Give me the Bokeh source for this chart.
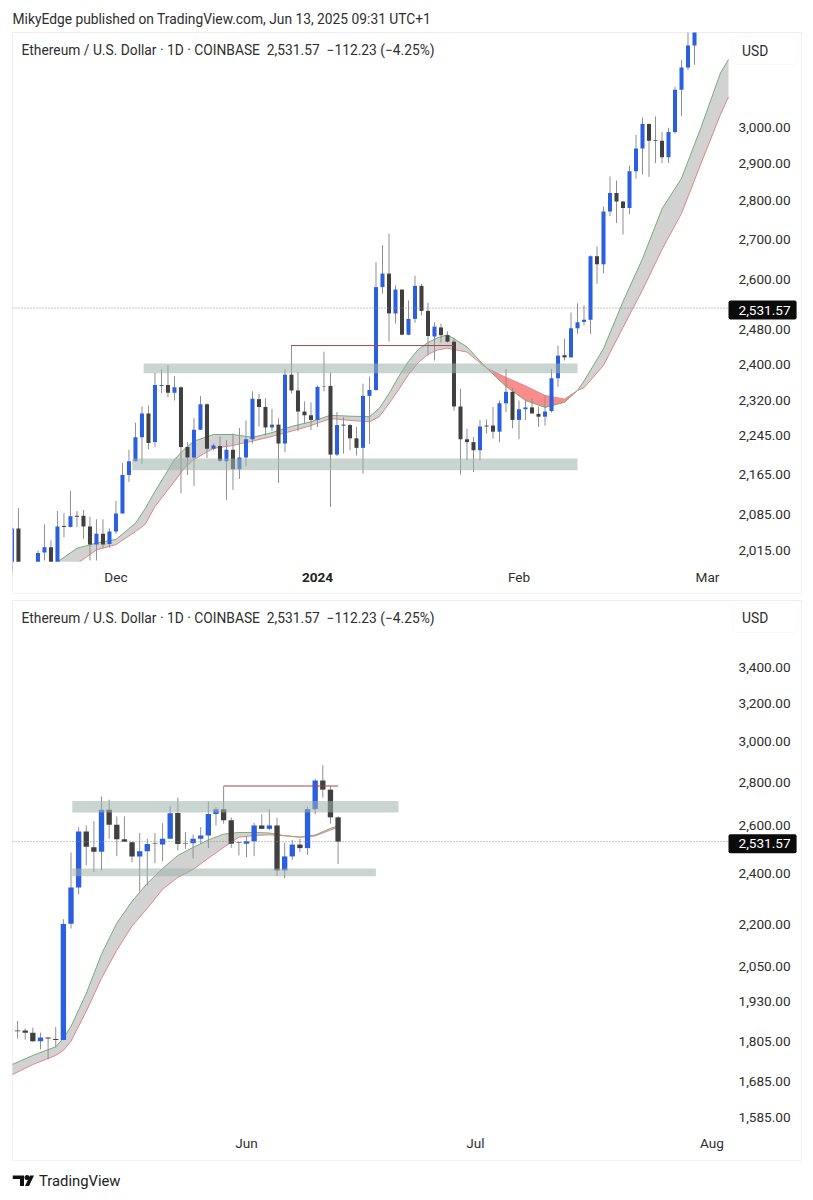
import numpy as np
import pandas as pd
from bokeh.embed import file_html
from bokeh.layouts import column
from bokeh.models import (BoxAnnotation, FixedTicker, Label, LinearAxis, LogAxis, NumeralTickFormatter,
                          Range1d)
from bokeh.plotting import figure
from bokeh.resources import INLINE

# ---------- texts ----------
published = "MikyEdge published on TradingView.com, Jun 13, 2025 09:31 UTC+1"
legend = "Ethereum / U.S. Dollar · 1D · COINBASE\u00a0\u00a02,531.57\u00a0\u00a0\u2212112.23 (\u22124.25%)"
last_price = 2531.57

# ---------- top panel: daily candles from 15 Nov 2023 ----------
top_start = "2023-11-15"
top_open = [1978,2058,1969,1955,1988,2012,2022,1988,2063,2061,2083,2083,2062,2027,2048,2028,
 2052,2087,2164,2192,2242,2293,2232,2353,2355,2338,2350,2222,2200,2258,2313,2218,2224,2192,2216,2176,
 2200,2238,2324,2307,2263,2269,2229,2378,2343,2297,2289,2279,2351,2353,2206,2269,2268,2240,2220,2331,
 2344,2582,2615,2519,2576,2469,2506,2585,2525,2465,2486,2468,2453,2308,2238,2232,2215,2267,2267,2254,
 2315,2340,2279,2302,2306,2292,2286,2298,2370,2422,2417,2484,2499,2504,2658,2638,2772,2821,2798,2781,
 2879,2941,3010,2964,2963,2917,2987,3108,3174,3240]
top_high = [2060,2098,1985,1985,2016,2066,2035,2092,2088,2132,2092,2094,2081,2076,2076,2058,
 2112,2189,2216,2273,2308,2310,2382,2390,2400,2375,2352,2232,2283,2331,2315,2229,2244,2236,2250,2262,
 2278,2341,2335,2326,2303,2283,2391,2445,2384,2319,2317,2354,2430,2383,2296,2285,2271,2264,2358,2374,
 2643,2686,2715,2586,2577,2550,2610,2590,2544,2498,2495,2477,2463,2347,2260,2243,2279,2280,2307,2321,
 2391,2349,2321,2323,2326,2308,2332,2391,2444,2460,2521,2543,2538,2660,2683,2785,2865,2854,2800,2894,
 2979,3028,3011,3031,2987,2999,3117,3197,3290,3300]
top_low = [1969,1960,1945,1945,1978,1997,1975,1975,2041,2060,2061,2038,1997,1997,2020,2021,
 2048,2087,2150,2192,2187,2217,2222,2337,2328,2321,2127,2164,2142,2257,2199,2215,2191,2114,2134,2156,
 2182,2229,2265,2246,2255,2148,2211,2336,2255,2271,2257,2264,2341,2100,2203,2208,2215,2204,2167,2228,
 2342,2566,2453,2495,2468,2468,2497,2514,2421,2410,2451,2451,2299,2165,2194,2170,2194,2250,2239,2232,
 2296,2261,2238,2279,2292,2264,2267,2295,2351,2410,2417,2471,2491,2471,2590,2616,2760,2742,2713,2765,
 2859,2870,2864,2901,2901,2901,2982,3032,3166,3182]
top_close = [2058,1969,1955,1965,2011,2022,1988,2062,2061,2082,2081,2062,2027,2048,2027,2052,
 2087,2164,2192,2242,2293,2230,2355,2355,2338,2350,2222,2200,2258,2313,2218,2225,2193,2216,2176,2200,
 2238,2325,2307,2263,2269,2229,2378,2343,2297,2289,2279,2351,2352,2206,2268,2267,2240,2220,2331,2344,
 2582,2615,2519,2576,2469,2506,2585,2525,2466,2488,2468,2453,2308,2238,2232,2215,2265,2265,2254,2315,
 2340,2279,2302,2306,2293,2286,2297,2370,2421,2417,2484,2498,2504,2658,2638,2772,2821,2798,2781,2879,
 2941,3010,2963,2962,2917,2987,3108,3174,3240,3285]

top_ema_dates = ["2023-11-21","2023-11-25","2023-11-28","2023-12-01","2023-12-04","2023-12-05 12:00","2023-12-07",
 "2023-12-08 12:00","2023-12-10","2023-12-11 12:00",
 "2023-12-13","2023-12-16","2023-12-19","2023-12-22","2023-12-25","2023-12-28","2023-12-31","2024-01-03",
 "2024-01-06","2024-01-09","2024-01-10 12:00","2024-01-12","2024-01-13 12:00","2024-01-15","2024-01-16 12:00",
 "2024-01-18","2024-01-19 12:00","2024-01-21","2024-01-24","2024-01-27",
 "2024-01-30","2024-02-02","2024-02-05","2024-02-08","2024-02-10","2024-02-11","2024-02-14","2024-02-17",
 "2024-02-20","2024-02-23","2024-02-26","2024-02-29","2024-03-03","2024-03-04 05:30"]
top_ema_fast = [1986,2020,2030,2037,2068,2097,2131,2163,2196,2217,2234,2248,2248,2242,2252,2265,2275,2289,2287,
 2286,2304,2336,2374,2408,2435,2451,2462,2469,2441,2393,2352,2321,2306,2317,2343,2364,2437,2547,2652,2779,2860,
 3000,3158,3198]
top_ema_slow = [1962,1991,2017,2027,2052,2066,2101,2126,2151,2178,2196,2219,2225,2234,2244,2255,2267,2282,2278,
 2275,2286,2314,2345,2378,2405,2424,2434,2438,2429,2393,2372,2353,2332,2324,2343,2349,2399,2486,2575,2675,2767,
 2900,3037,3087]
top_zone_left = ["2023-12-05 06:00","2023-12-03 12:00"]
top_zone_right = ["2024-02-10","2024-02-10"]
top_zone_low = [2381,2174]
top_zone_high = [2403,2198]
top_level_dates = ["2023-12-28","2024-01-22"]
top_level_price = [2444,2444]
top_ticks = [2015,2085,2165,2245,2320,2400,2480,2600,2700,2800,2900,3000]
top_months = {"2023-12-01":"Dec","2024-02-01":"Feb","2024-03-01":"Mar"}
top_year = ("2024-01-01","2024")
# visible window: left, right end of the time scale, right end of the panel, panel bottom, scale bottom, panel top
top_view = ("2023-11-15 02:00","2024-03-04 05:30","2024-03-15 11:00",1936,1994.5,3280)

# ---------- bottom panel: daily candles from 2 May 2025 ----------
bot_start = "2025-05-02"
bot_open = [1838,1838,1831,1805,1816,1812,1809,2203,2342,2576,2508,2489,2672,2605,2542,2529,2469,2491,2524,
 2519,2544,2658,2526,2525,2544,2558,2653,2674,2625,2530,2523,2533,2602,2587,2602,2411,2469,2519,2504,2675,
 2808,2765,2638]
bot_high = [1868,1845,1847,1831,1817,1849,2220,2485,2595,2602,2621,2733,2718,2642,2643,2531,2569,2544,2569,
 2612,2690,2728,2573,2562,2595,2710,2684,2781,2638,2532,2555,2614,2652,2675,2636,2527,2539,2544,2686,2817,
 2882,2781,2643]
bot_low = [1813,1810,1803,1780,1750,1786,1808,2185,2315,2432,2404,2411,2544,2470,2531,2445,2327,2351,2441,
 2449,2544,2494,2501,2461,2522,2504,2602,2610,2505,2473,2466,2470,2587,2581,2388,2380,2455,2487,2475,2652,
 2728,2610,2438]
bot_close = [1836,1831,1805,1816,1813,1809,2202,2342,2576,2510,2489,2672,2605,2542,2531,2469,2491,2522,2522,
 2544,2656,2522,2524,2544,2558,2653,2674,2625,2523,2528,2533,2602,2587,2602,2411,2469,2519,2504,2675,2808,
 2765,2638,last_price]

bot_ema_dates = ["2025-05-01","2025-05-04","2025-05-07","2025-05-08","2025-05-09","2025-05-11","2025-05-13",
 "2025-05-15","2025-05-17","2025-05-19","2025-05-21","2025-05-23","2025-05-25","2025-05-27","2025-05-29",
 "2025-05-31","2025-06-02","2025-06-04","2025-06-06","2025-06-08","2025-06-10","2025-06-12","2025-06-13"]
bot_ema_fast = [1732,1762,1788,1814,1851,1957,2092,2205,2288,2359,2419,2473,2507,2539,2564,2571,2571,2569,2557,
 2551,2560,2589,2600]
bot_ema_slow = [1702,1735,1762,1777,1805,1899,2008,2106,2194,2261,2335,2383,2415,2461,2507,2551,2558,2561,2557,
 2551,2556,2582,2593]
bot_zone_left = ["2025-05-09 04:00","2025-05-09 04:00"]
bot_zone_right = ["2025-06-20 22:00","2025-06-17 23:00"]
bot_zone_low = [2660,2387]
bot_zone_high = [2712,2419]
bot_level_dates = ["2025-05-29","2025-06-13"]
bot_level_price = [2782,2782]
bot_ticks = [1585,1685,1805,1930,2050,2200,2400,2600,2800,3000,3200,3400]
bot_months = {"2025-06-01":"Jun","2025-07-01":"Jul","2025-08-01":"Aug"}
bot_year = None
bot_view = ("2025-05-01 08:00","2025-08-03 04:00","2025-08-12 17:36",1474.5,1557,3810)

# ---------- styles ----------
FONT = "Roboto"
BLUE = "#2a5fe0"
DARK = "#404040"
WICK = "#8f8f8f"
TEXT = "#2e2e2e"
BORDER = "#eeeeee"
DAY = 86400000.0


def ms(values):
    return (pd.to_datetime(values, format="ISO8601") - pd.Timestamp("1970-01-01")) / pd.Timedelta(milliseconds=1)


def bare_axis(axis, standoff):
    axis.axis_line_color = None
    axis.major_tick_line_color = None
    axis.minor_tick_line_color = None
    axis.major_tick_out = 0
    axis.major_tick_in = 0
    axis.minor_tick_out = 0
    axis.major_label_text_font = FONT
    axis.major_label_text_font_size = "13.6px"
    axis.major_label_text_color = TEXT
    axis.major_label_standoff = standoff


def panel(start, o, h, l, c, ema_dates, fast, slow, zl, zr, zb, zt, lvl_d, lvl_p, ticks, months,
          year, view, body_days, top_border, canvas_h, legend_y, button, usd_y, tag_offset):
    x = np.asarray(ms(pd.date_range(start, periods=len(o), freq="D")), dtype=float)
    o, h, l, c = map(np.asarray, (o, h, l, c))
    up = c > o
    x0, x_axis, x1 = float(ms(view[0])), float(ms(view[1])), float(ms(view[2]))
    p_bottom, scale_bottom, p_top = view[3], view[4], view[5]
    p = figure(width=813, height=canvas_h, output_backend="svg", toolbar_location=None,
               y_axis_type="log", y_axis_location=None, x_axis_location=None,
               x_range=Range1d(x0, x1), y_range=Range1d(p_bottom, p_top),
               min_border_left=12, min_border_right=12, min_border_top=top_border, min_border_bottom=1)
    p.grid.visible = False
    p.outline_line_color = BORDER
    p.background_fill_color = "white"
    p.border_fill_color = "white"

    ex = np.asarray(ms(ema_dates), dtype=float)
    fast, slow = np.asarray(fast, float), np.asarray(slow, float)
    lo = np.minimum(fast, slow)
    p.varea(ex, fast, lo, fill_color="#d2d2d2", fill_alpha=1)
    p.varea(ex, slow, lo, fill_color="#fb8c8c", fill_alpha=1)
    p.line(ex, fast, line_color="#74ad79", line_width=1)
    p.line(ex, slow, line_color="#e08686", line_width=1)

    p.segment(x, l, x, h, line_color=WICK, line_width=1)
    bw = body_days * DAY
    top = np.maximum(o, c)
    bot = np.minimum(o, c)
    p.vbar(x[up], bw, bot[up], top[up], fill_color=BLUE, line_color=None)
    p.vbar(x[~up], bw, bot[~up], top[~up], fill_color=DARK, line_color=None)

    p.quad(left=ms(zl), right=ms(zr), bottom=zb, top=zt, fill_color="#9fb0ac", fill_alpha=0.55, line_color=None)
    p.line(ms(lvl_d), lvl_p, line_color="#a04848", line_width=1)
    p.line([x0, x_axis], [last_price, last_price], line_color="#8a8a8a", line_width=1, line_dash=[1, 2])

    # the strip that holds the date labels: nothing of the price chart shows there
    p.quad(left=[x0], right=[x1], bottom=[p_bottom], top=[scale_bottom], fill_color="white", line_color=None)

    # axes sit inside the panel, at the edges of the price/time scales
    ya = LogAxis(fixed_location=x_axis, ticker=FixedTicker(ticks=ticks),
                 formatter=NumeralTickFormatter(format="0,0.00"))
    bare_axis(ya, 10)
    p.add_layout(ya, "right")

    mt = {float(ms(k)): v for k, v in months.items()}
    xa = LinearAxis(fixed_location=scale_bottom, ticker=FixedTicker(ticks=list(mt)), major_label_overrides=mt)
    bare_axis(xa, 7)
    p.add_layout(xa, "below")
    if year:
        y_tick = float(ms(year[0]))
        xb = LinearAxis(fixed_location=scale_bottom, ticker=FixedTicker(ticks=[y_tick]),
                        major_label_overrides={y_tick: year[1]})
        bare_axis(xb, 11)
        xb.major_label_text_font_style = "bold"
        xb.major_label_text_color = "#222222"
        p.add_layout(xb, "below")

    # legend, currency button, last price tag
    p.add_layout(BoxAnnotation(left=732, right=797, top=button[0], bottom=button[1],
                               left_units="canvas", right_units="canvas", top_units="canvas", bottom_units="canvas",
                               fill_color="white", fill_alpha=1, line_color=BORDER, line_width=1,
                               border_radius=4))
    p.add_layout(Label(x=21, y=legend_y, x_units="canvas", y_units="canvas", text=legend,
                       text_font=FONT, text_font_size="13.8px", text_color=TEXT, text_baseline="middle"))
    p.add_layout(Label(x=741.5, y=usd_y, x_units="canvas", y_units="canvas", text="USD",
                       text_font=FONT, text_font_size="13.8px", text_color=TEXT, text_baseline="middle"))
    p.add_layout(Label(x=x_axis, y=last_price, text=f"{last_price:,.2f}", text_font=FONT,
                       text_font_size="13.6px", text_color="white", text_baseline="middle",
                       background_fill_color="#0b0b0b", padding=(10, 6, 5, 5), border_radius=2,
                       y_offset=tag_offset))
    return p


# the column lines up the frames, so these two figures start at the panels' left edge
header = figure(width=813, height=31, output_backend="svg", toolbar_location=None,
                x_range=Range1d(0, 789), y_range=Range1d(31, 0), min_border=0)
header.axis.visible = False
header.grid.visible = False
header.outline_line_color = None
header.add_layout(Label(x=0, y=18, text=published, text_font=FONT, text_font_size="13.8px",
                        text_color=TEXT, text_baseline="middle"))

top_panel = panel(top_start, top_open, top_high, top_low, top_close, top_ema_dates, top_ema_fast, top_ema_slow,
                  top_zone_left, top_zone_right, top_zone_low, top_zone_high, top_level_dates, top_level_price,
                  top_ticks, top_months, top_year, top_view, 0.62, 1, 563, 18.5, (5, 33), 19, -2)
bot_panel = panel(bot_start, bot_open, bot_high, bot_low, bot_close, bot_ema_dates, bot_ema_fast, bot_ema_slow,
                  bot_zone_left, bot_zone_right, bot_zone_low, bot_zone_high, bot_level_dates, bot_level_price,
                  bot_ticks, bot_months, bot_year, bot_view, 0.7, 6, 567, 23, (9, 38), 23.5, -2)

footer = figure(width=813, height=31, output_backend="svg", toolbar_location=None,
                x_range=Range1d(0, 789), y_range=Range1d(31, 0), min_border=0)
footer.axis.visible = False
footer.grid.visible = False
footer.outline_line_color = None
logo_x = [[0, 11.5, 11.5, 7.5, 7.5, 0], [17.5, 21.5, 16.5, 12.5]]
logo_y = [[14, 14, 24.5, 24.5, 17.5, 17.5], [14, 14, 24.5, 24.5]]
footer.patches(logo_x, logo_y, fill_color="#111111", line_color=None)
footer.scatter([14.5], [16], size=5, marker="circle", fill_color="#111111", line_color=None)
footer.add_layout(Label(x=26.5, y=19, text="TradingView", text_font=FONT, text_font_size="14.8px",
                        text_color="#222222", text_baseline="middle"))

page = column(header, top_panel, bot_panel, footer, spacing=0)
open("out.html", "w").write(file_html(page, INLINE))
